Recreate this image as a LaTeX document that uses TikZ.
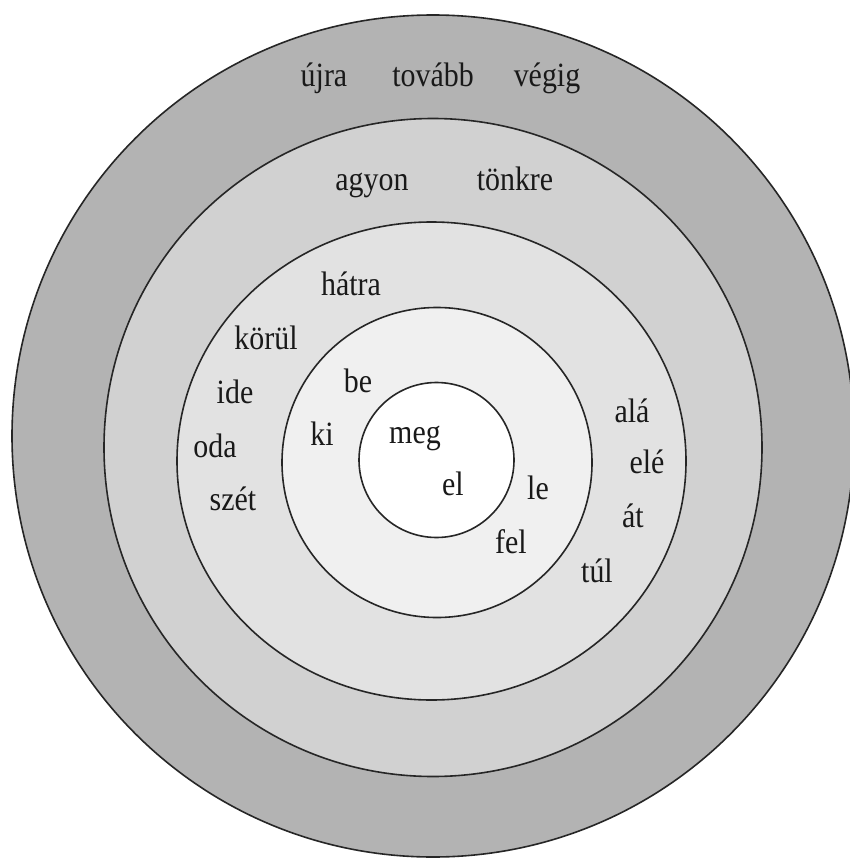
\documentclass[tikz,border=0pt]{standalone}
\usepackage{fontspec}
\setmainfont{Liberation Serif}[FakeStretch=0.88]
\usepackage{tikz}

\definecolor{kor1}{RGB}{179,179,179}
\definecolor{kor2}{RGB}{209,209,209}
\definecolor{kor3}{RGB}{226,226,226}
\definecolor{kor4}{RGB}{240,240,240}

\tikzset{
	gyuru/.style={draw=black!85, line width=1.6pt},
	szo/.style={anchor=base, inner sep=0pt, text=black!90, font=\fontsize{34}{40}\selectfont}
}

\begin{document}
\begin{tikzpicture}[x=1pt, y=-1pt]
	\useasboundingbox (0,0) rectangle (850,859);
	\fill[white] (0,0) rectangle (850,859);
	% circles, outside in
	\draw[gyuru, fill=kor1] (433,436) circle[radius=421];
	\draw[gyuru, fill=kor2] (433,447.5) circle[radius=329];
	\draw[gyuru, fill=kor3] (431.5,461) ellipse[x radius=254.5, y radius=239];
	\draw[gyuru, fill=kor4] (437,462.5) circle[radius=155];
	\draw[gyuru, fill=white] (436.5,460) circle[radius=77.5];
	% outer ring
	\node[szo] (ujra) at (324,86) {újra};
	\node[szo] (tovabb) at (433,86) {tovább};
	\node[szo] (vegig) at (547,86) {végig};
	% second ring
	\node[szo] (agyon) at (372,190) {agyon};
	\node[szo] (tonkre) at (515,190) {tönkre};
	% third ring
	\node[szo] (hatra) at (351,295) {hátra};
	\node[szo] (korul) at (266,349) {körül};
	\node[szo] (ide) at (235,403) {ide};
	\node[szo] (oda) at (215,457) {oda};
	\node[szo] (szet) at (233,510) {szét};
	\node[szo] (ala) at (632,422) {alá};
	\node[szo] (ele) at (647,473) {elé};
	\node[szo] (at) at (633,527) {át};
	\node[szo] (tul) at (597,582) {túl};
	% fourth ring
	\node[szo] (be) at (358,392) {be};
	\node[szo] (ki) at (322,445) {ki};
	\node[szo] (le) at (538,499) {le};
	\node[szo] (fel) at (511,553) {fel};
	% centre
	\node[szo] (meg) at (415,443) {meg};
	\node[szo] (el) at (453,495) {el};
\end{tikzpicture}
\end{document}
